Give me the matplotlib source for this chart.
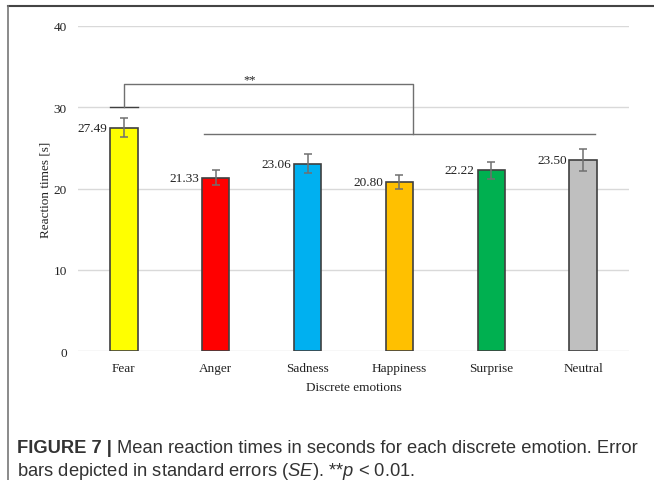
import matplotlib.pyplot as plt
from matplotlib.lines import Line2D

plt.rcParams["mathtext.fontset"] = "custom"
plt.rcParams["mathtext.it"] = "Liberation Sans:italic"
plt.rcParams["mathtext.rm"] = "Liberation Sans"

emotions = ["Fear", "Anger", "Sadness", "Happiness", "Surprise", "Neutral"]
means = [27.49, 21.33, 23.06, 20.80, 22.22, 23.50]
se = [1.15, 0.90, 1.20, 0.85, 1.00, 1.40]
colors = ["#FFFF00", "#FF0000", "#00B0F0", "#FFC000", "#00B050", "#BFBFBF"]

fig = plt.figure(figsize=(6.54, 4.81), dpi=100)
ax = fig.add_axes([0.119, 0.268, 0.843, 0.676])

x = list(range(len(emotions)))
ax.bar(x, means, width=0.3, color=colors, edgecolor="#404040", linewidth=1.2, zorder=3)
ax.errorbar(x, means, yerr=se, fmt="none", ecolor="#707070", elinewidth=1.1,
            capsize=3, capthick=1.1, zorder=4)

# value labels left of each bar
for xi, m in zip(x, means):
    ax.text(xi - 0.18, m, f"{m:.2f}", ha="right", va="center",
            family="Liberation Serif", fontsize=9.5, color="#222222", zorder=5)

# significance bracket
lc = "#707070"
ax.plot([-0.15, 0.15], [30, 30], color="#404040", lw=1.0, zorder=4)
ax.plot([0, 0, 3.15, 3.15], [30, 32.8, 32.8, 26.65], color=lc, lw=1.0, zorder=4)
ax.plot([0.87, 5.13], [26.65, 26.65], color=lc, lw=1.0, zorder=4)
ax.text(1.37, 32.7, "**", ha="center", va="bottom", family="Liberation Serif",
        fontsize=9, color="#222222")

ax.set_xlim(-0.5, 5.5)
ax.set_ylim(0, 40)
ax.set_yticks([0, 10, 20, 30, 40])
ax.set_xticks(x)
ax.set_xticklabels(emotions)
ax.grid(axis="y", color="#d9d9d9", lw=1.0, zorder=0)
ax.tick_params(length=0, labelsize=9.5, colors="#222222")
ax.tick_params(axis="y", pad=8)
ax.tick_params(axis="x", pad=8)
for lab in ax.get_xticklabels() + ax.get_yticklabels():
    lab.set_family("Liberation Serif")
for s in ax.spines.values():
    s.set_visible(False)
ax.set_xlabel("Discrete emotions", family="Liberation Serif", fontsize=9.5,
              color="#222222", labelpad=5)
ax.set_ylabel("Reaction times [s]", family="Liberation Serif", fontsize=9.5,
              color="#222222", labelpad=1)

# frame lines (top and left)
fig.add_artist(Line2D([8 / 654, 1], [1 - 7 / 481, 1 - 7 / 481], color="#444444", lw=1.5))
fig.add_artist(Line2D([8 / 654, 8 / 654], [0, 1 - 7 / 481], color="#777777", lw=1.2))

# caption
fs = 13.2
t1 = fig.text(17 / 654, 1 - 449 / 481, "FIGURE 7 |", family="Liberation Sans",
              fontweight="bold", fontsize=fs, color="#333333", va="center")
r = fig.canvas.get_renderer()
bb = t1.get_window_extent(renderer=r)
fig.text(bb.x1 / 654 + 5 / 654, 1 - 449 / 481,
         "Mean reaction times in seconds for each discrete emotion. Error",
         family="Liberation Sans", fontsize=fs, color="#333333", va="center")
fig.text(17 / 654, 1 - 472 / 481,
         r"bars depicted in standard errors ($\mathit{SE}$). **$\mathit{p}$ < 0.01.",
         family="Liberation Sans", fontsize=fs, color="#333333", va="center")

fig.savefig("out.png", dpi=100)
